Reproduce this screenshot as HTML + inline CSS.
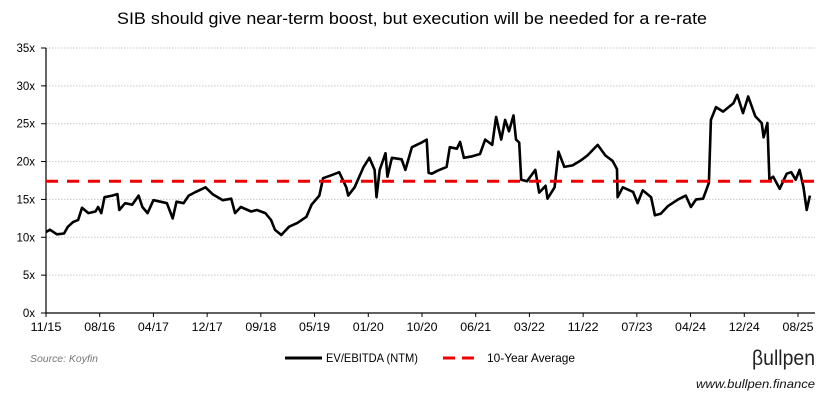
<!DOCTYPE html>
<html><head><meta charset="utf-8"><style>
body{margin:0;background:#fff;width:825px;height:404px;overflow:hidden;font-family:"Liberation Sans",sans-serif}
svg{display:block}
</style></head><body>
<svg id="chart" width="825" height="404">
<text x="412" y="24" text-anchor="middle" font-size="17" textLength="590" lengthAdjust="spacingAndGlyphs" fill="#000">SIB should give near-term boost, but execution will be needed for a re-rate</text>
<g id="grid"></g><g id="yaxis"></g><g id="xaxis"></g><g id="series"></g>
<g>
<line x1="285" y1="358" x2="322" y2="358" stroke="#000" stroke-width="3"/>
<text x="326" y="362" font-size="12" textLength="92" lengthAdjust="spacingAndGlyphs">EV/EBITDA (NTM)</text>
<line x1="443" y1="358" x2="481" y2="358" stroke="#e00" stroke-width="3" stroke-dasharray="12,7"/>
<text x="487" y="362" font-size="12" textLength="88" lengthAdjust="spacingAndGlyphs">10-Year Average</text>
</g>
<text x="30" y="362" font-size="10" font-style="italic" fill="#777" textLength="68" lengthAdjust="spacingAndGlyphs">Source: Koyfin</text>
<text x="815" y="365" text-anchor="end" font-size="21" fill="#222" textLength="63" lengthAdjust="spacingAndGlyphs">βullpen</text>
<text x="815" y="388" text-anchor="end" font-size="12" font-style="italic" fill="#111" textLength="119" lengthAdjust="spacingAndGlyphs">www.bullpen.finance</text>
</svg>
<script>
const months=[0,0.6,1.7,2.8,3.4,4.2,5.0,5.6,6.6,7.7,8.1,8.6,9.1,10.3,11.1,11.4,12.3,13.4,14.4,15.0,15.8,16.7,17.8,18.8,19.7,20.3,21.4,22.2,23.3,24.8,25.9,27.5,28.8,29.4,30.3,31.9,32.8,34.1,35.0,35.6,36.6,37.8,39.1,40.5,41.3,42.5,43.1,44.4,45.6,46.7,47.0,48.0,49.4,50.3,51.1,51.4,51.9,52.8,53.1,53.8,55.3,55.9,56.9,58.4,59.2,59.5,60.0,60.9,62.3,62.8,63.9,64.4,65.0,66.3,67.5,68.3,69.4,70.0,70.8,71.4,72.0,72.7,73.1,73.6,73.9,74.8,76.1,76.7,77.7,78.0,79.1,79.7,80.6,81.9,83.1,84.2,85.8,87.0,88.1,88.8,88.9,89.7,91.3,92.0,92.8,94.1,94.7,95.6,96.7,98.3,99.5,100.3,101.1,102.2,103.1,103.4,104.2,105.3,106.9,107.5,108.4,109.2,110.3,111.3,111.6,112.2,112.5,113.1,114.1,115.2,115.9,116.6,117.2,117.8,118.3,118.8];
const evEbitda=[10.7,11.0,10.4,10.5,11.4,12.0,12.3,13.9,13.2,13.4,14.0,13.2,15.3,15.5,15.7,13.6,14.5,14.3,15.5,14.0,13.2,14.9,14.7,14.5,12.5,14.7,14.5,15.5,16.0,16.6,15.7,14.9,15.1,13.2,14.0,13.4,13.6,13.2,12.3,11.0,10.3,11.4,11.9,12.7,14.3,15.5,17.8,18.2,18.6,16.6,15.5,16.6,19.3,20.5,18.9,15.3,18.9,21.1,18.0,20.5,20.3,18.9,21.9,22.5,22.9,18.5,18.4,18.8,19.3,21.9,21.7,22.6,20.5,20.7,21.0,22.9,22.2,25.9,22.9,25.5,24.0,26.1,22.9,22.5,17.6,17.4,18.9,15.9,16.8,15.1,16.6,21.3,19.3,19.5,20.1,20.8,22.2,20.8,20.1,19.0,15.3,16.6,16.0,14.5,16.2,15.3,12.9,13.1,14.1,15.0,15.5,14.0,15.0,15.1,17.2,25.5,27.2,26.6,27.7,28.8,26.4,28.6,26.0,25.1,23.2,25.1,17.6,18.0,16.4,18.4,18.6,17.6,18.9,16.6,13.6,15.5];
const average=[17.4];
const yTicks=[0,5,10,15,20,25,30,35];
const xLabels=["11/15","08/16","04/17","12/17","09/18","05/19","01/20","10/20","06/21","03/22","11/22","07/23","04/24","12/24","08/25"];
const NS="http://www.w3.org/2000/svg";
const x0=46,x1=815,y0=313,yTop=48;
const xs=m=>x0+m*6.43;
const ys=v=>y0-(v/35)*(y0-yTop);
function mk(tag,attrs,parent,txt){const e=document.createElementNS(NS,tag);for(const k in attrs)e.setAttribute(k,attrs[k]);if(txt!==undefined)e.textContent=txt;document.getElementById(parent).appendChild(e);return e;}
yTicks.forEach(t=>{
  const y=ys(t);
  if(t>0){const g=mk('line',{x1:x0,x2:x1,y1:y,y2:y,stroke:'#c8c8c8','stroke-width':1,'stroke-dasharray':'1.5,1.5'},'grid');
  
  }
  const tk=mk('line',{x1:41,x2:x0,y1:y,y2:y,stroke:'#000','stroke-width':1},'yaxis');
  
  
  const l=mk('text',{x:35,y:y+4,'text-anchor':'end','font-size':11.5},'yaxis',t+'x');
  
  
});
const ya=mk('line',{x1:x0,x2:x0,y1:yTop,y2:y0,stroke:'#000','stroke-width':1.2},'yaxis');


const xa=mk('line',{x1:x0,x2:x1,y1:y0,y2:y0,stroke:'#000','stroke-width':1.2},'xaxis');


const step=(798-x0)/(xLabels.length-1);
xLabels.forEach((lab,i)=>{
  const x=x0+i*step;
  const tk=mk('line',{x1:x,x2:x,y1:y0,y2:y0+4,stroke:'#000','stroke-width':1},'xaxis');
  
  
  const t=mk('text',{x:x,y:331,'text-anchor':'middle','font-size':12,textLength:31,lengthAdjust:'spacingAndGlyphs'},'xaxis',lab);
  
  
});
const d=months.map((m,i)=>(i?'L':'M')+xs(m).toFixed(1)+','+ys(evEbitda[i]).toFixed(1)).join('');
const p=mk('path',{d:d,fill:'none',stroke:'#000','stroke-width':2.6,'stroke-linejoin':'round'},'series');


const a=mk('line',{x1:x0,x2:x1,y1:ys(average[0]),y2:ys(average[0]),stroke:'#e00','stroke-width':3,'stroke-dasharray':'12,9'},'series');


</script>
</body></html>
